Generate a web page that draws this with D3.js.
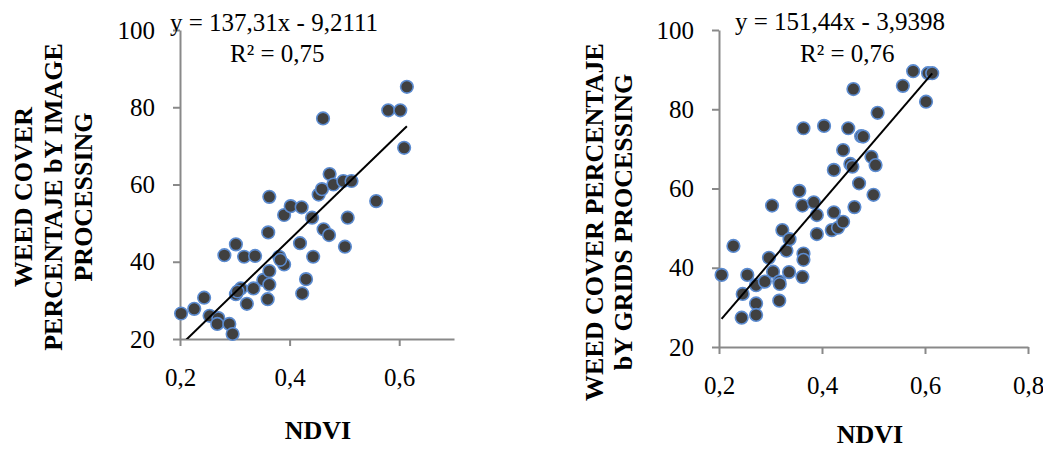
<!DOCTYPE html>
<html>
<head>
<meta charset="utf-8">
<script src="https://cdn.jsdelivr.net/npm/d3@7"></script>
<style>
  body { margin: 0; background: #fff; }
  svg { display: block; font-family: "Times New Roman", "Liberation Serif", serif; }
</style>
</head>
<body>
<div id="chart"></div>
<script>
// left chart: image processing
var leftNdvi = [0.202, 0.226, 0.244, 0.254, 0.270, 0.268, 0.290, 0.296, 0.281, 0.302,
    0.302, 0.311, 0.317, 0.322, 0.334, 0.337, 0.352, 0.363, 0.363, 0.360,
    0.361, 0.363, 0.381, 0.390, 0.390, 0.402, 0.422, 0.419, 0.423, 0.430,
    0.441, 0.443, 0.453, 0.459, 0.461, 0.462, 0.472, 0.473, 0.480, 0.498,
    0.513, 0.501, 0.506, 0.558, 0.580, 0.602, 0.614, 0.609, 0.305, 0.383];
var leftCover = [26.6, 27.8, 30.7, 26.0, 25.4, 23.9, 23.9, 21.3, 41.7, 44.5,
    31.6, 33.1, 41.3, 29.1, 33.1, 41.5, 35.3, 37.6, 34.1, 30.3,
    47.6, 56.8, 41.3, 39.3, 52.1, 54.4, 54.1, 44.8, 31.8, 35.5,
    51.4, 41.3, 57.4, 58.8, 77.1, 48.4, 46.9, 62.7, 60.0, 60.9,
    60.9, 43.9, 51.4, 55.7, 79.2, 79.2, 85.3, 69.5, 32.3, 40.5];

// right chart: grids processing
var rightNdvi = [0.205, 0.228, 0.246, 0.255, 0.244, 0.272, 0.272, 0.272, 0.289, 0.297,
    0.305, 0.303, 0.317, 0.318, 0.317, 0.323, 0.331, 0.337, 0.336, 0.356,
    0.362, 0.364, 0.364, 0.364, 0.362, 0.384, 0.390, 0.390, 0.404, 0.419,
    0.423, 0.423, 0.431, 0.441, 0.441, 0.451, 0.455, 0.459, 0.461, 0.463,
    0.472, 0.476, 0.480, 0.496, 0.500, 0.504, 0.508, 0.557, 0.577, 0.602,
    0.606, 0.614];
var rightCover = [38.2, 45.5, 33.4, 38.2, 27.4, 35.6, 31.0, 28.1, 36.5, 42.5,
    39.0, 55.7, 36.5, 35.9, 31.7, 49.5, 44.3, 47.2, 38.9, 59.4,
    55.7, 75.2, 43.6, 42.0, 37.7, 56.5, 53.3, 48.5, 75.8, 49.5,
    54.0, 64.7, 50.1, 51.6, 69.7, 75.2, 66.2, 65.5, 85.1, 55.3,
    61.3, 73.2, 73.1, 68.0, 58.4, 65.9, 79.1, 85.9, 89.6, 81.9,
    89.1, 89.1];

var yTicks = [20, 40, 60, 80, 100];
var leftXTicks = [0.2, 0.4, 0.6];
var rightXTicks = [0.2, 0.4, 0.6, 0.8];

var leftTitle = ["WEED COVER", "PERCENTAJE bY IMAGE", "PROCESSING"];
var rightTitle = ["WEED COVER PERCENTAJE", "bY GRIDS PROCESSING"];
var leftEq = ["y = 137,31x - 9,2111", "R² = 0,75"];
var rightEq = ["y = 151,44x - 3,9398", "R² = 0,76"];
var leftFit = [137.31, -9.2111];
var rightFit = [151.44, -3.9398];

var fmt = function (d) { return d3.format(".1f")(d).replace(".", ","); };

var svg = d3.select("#chart")
    .append("svg")
    .attr("width", 1043)
    .attr("height", 449);

function drawPanel(cfg) {
    var x = d3.scaleLinear().domain(cfg.xDomain).range(cfg.xRange);
    var y = d3.scaleLinear().domain([20, 100]).range(cfg.yRange);
    var g = svg.append("g");

    // clip for trendline
    g.append("clipPath").attr("id", cfg.id + "clip")
        .append("rect")
        .attr("x", cfg.xRange[0]).attr("y", cfg.yRange[1])
        .attr("width", cfg.xRange[1] - cfg.xRange[0])
        .attr("height", cfg.yRange[0] - cfg.yRange[1]);

    // y axis
    var ya = g.append("g")
        .attr("transform", "translate(" + cfg.xRange[0] + ",0)")
        .call(d3.axisLeft(y).tickValues(yTicks).tickSize(7).tickSizeOuter(0).tickPadding(18)
            .tickFormat(d3.format("d")));
    // x axis
    var xa = g.append("g")
        .attr("transform", "translate(0," + cfg.yRange[0] + ")")
        .call(d3.axisBottom(x).tickValues(cfg.xTicks).tickSize(7).tickSizeOuter(0).tickPadding(22)
            .tickFormat(fmt));
    [ya, xa].forEach(function (a) {
        a.select(".domain").attr("stroke", "#898989").attr("stroke-width", 2);
        a.selectAll(".tick line").attr("stroke", "#898989").attr("stroke-width", 2);
        a.selectAll(".tick text")
            .attr("fill", "#000")
            .style("font-family", "'Times New Roman', 'Liberation Serif', serif")
            .style("font-size", "25px");
    });

    // points
    g.selectAll("circle")
        .data(cfg.ndvi)
        .enter()
        .append("circle")
        .attr("cx", function (d) { return x(d); })
        .attr("cy", function (d, i) { return y(cfg.cover[i]); })
        .attr("r", 6.3)
        .attr("fill", "#404040")
        .attr("stroke", "#5b8bd0")
        .attr("stroke-width", 1.6);

    // trendline
    var x0 = d3.min(cfg.ndvi), x1 = d3.max(cfg.ndvi);
    g.append("line")
        .attr("clip-path", "url(#" + cfg.id + "clip)")
        .attr("x1", x(x0)).attr("y1", y(cfg.fit[0] * x0 + cfg.fit[1]))
        .attr("x2", x(x1)).attr("y2", y(cfg.fit[0] * x1 + cfg.fit[1]))
        .attr("stroke", "#000")
        .attr("stroke-width", 2);

    // equation
    g.selectAll(".eq")
        .data(cfg.eq)
        .enter()
        .append("text")
        .attr("x", function (d, i) { return cfg.eqPos[i][0]; })
        .attr("y", function (d, i) { return cfg.eqPos[i][1]; })
        .style("font-size", "25px")
        .text(function (d) { return d; });

    // y title
    var t = g.append("text")
        .attr("transform", "translate(" + cfg.titlePos[0] + "," + cfg.titlePos[1] + ") rotate(-90)")
        .attr("text-anchor", "middle")
        .style("font-size", "26px")
        .style("font-weight", "bold");
    t.selectAll("tspan")
        .data(cfg.title)
        .enter()
        .append("tspan")
        .attr("x", 0)
        .attr("y", function (d, i) { return i * cfg.lineGap; })
        .text(function (d) { return d; });

    // x title
    g.append("text")
        .attr("x", cfg.ndviPos[0]).attr("y", cfg.ndviPos[1])
        .attr("text-anchor", "middle")
        .style("font-size", "26px")
        .style("font-weight", "bold")
        .text("NDVI");
}

drawPanel({
    id: "l", ndvi: leftNdvi, cover: leftCover, fit: leftFit,
    xDomain: [0.2, 0.7], xRange: [180, 454], yRange: [339, 30], xTicks: leftXTicks,
    eq: leftEq, eqPos: [[170, 31], [230, 62]],
    title: leftTitle, titlePos: [32, 197], lineGap: 30,
    ndviPos: [318, 439]
});

drawPanel({
    id: "r", ndvi: rightNdvi, cover: rightCover, fit: rightFit,
    xDomain: [0.2, 0.8], xRange: [719, 1028], yRange: [347, 30], xTicks: rightXTicks,
    eq: rightEq, eqPos: [[735, 30], [800, 62]],
    title: rightTitle, titlePos: [603, 222], lineGap: 29,
    ndviPos: [870, 443]
});
</script>
</body>
</html>
